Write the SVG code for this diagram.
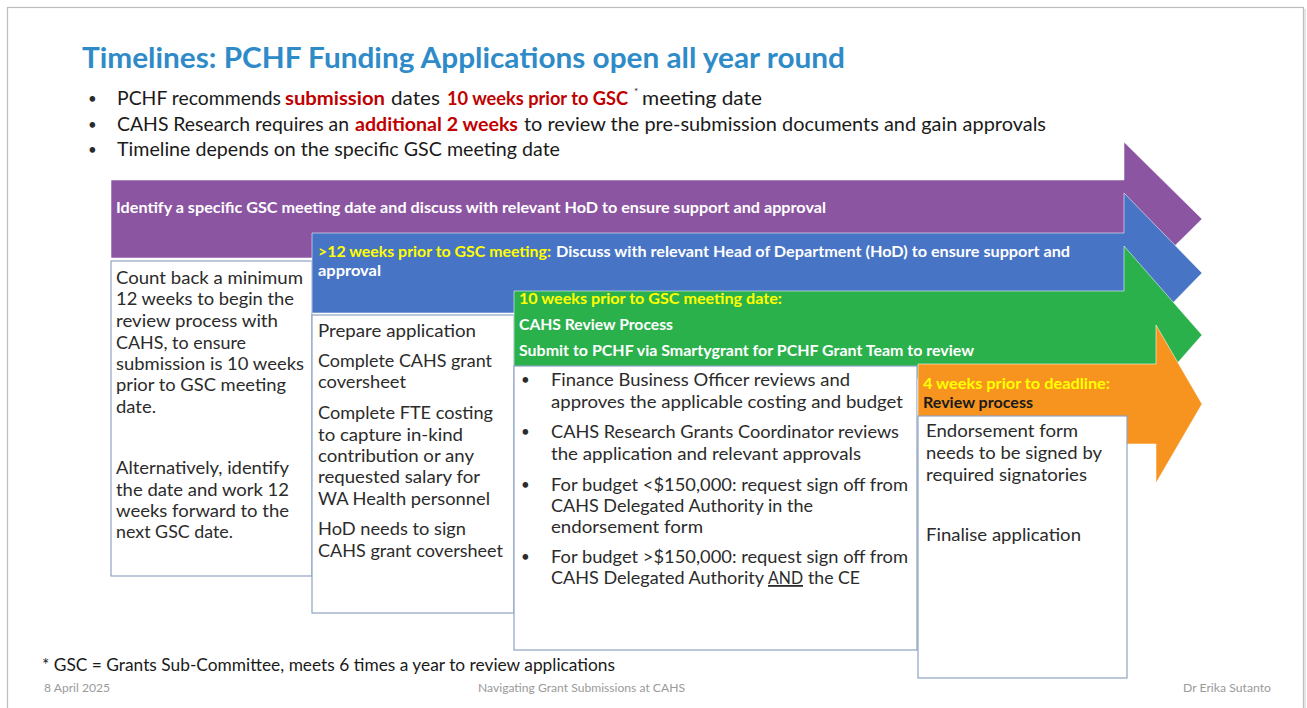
<svg xmlns="http://www.w3.org/2000/svg" width="1307" height="708" viewBox="0 0 1307 708">
<style>
text{font-family:Lato,"Liberation Sans",sans-serif}
.title{font-size:28px;font-weight:bold;fill:#2E8BC8}
.bl{font-size:19px;fill:#1a1a1a}
.red{font-size:19px;fill:#C00000;font-weight:bold}
.ar{font-size:14.5px;font-weight:bold;fill:#ffffff}
.ay{font-size:14.5px;font-weight:bold;fill:#FFFF00}
.ak{font-size:14.5px;font-weight:bold;fill:#1a1a1a}
.bx{font-size:18px;fill:#2b2b2b}
.dot{font-size:15px;fill:#2b2b2b}
.box{fill:#ffffff;stroke:#8FA3C2;stroke-width:1.2}
.arrow{stroke:#ffffff;stroke-opacity:0.55;stroke-width:1}
.foot{font-size:11px;fill:#9A9A9A}
.fn{font-size:17px;fill:#1a1a1a}
</style>
<rect x="0" y="0" width="1307" height="708" fill="#ffffff"/>
<rect x="7.5" y="7.5" width="1296" height="720" fill="#ffffff" stroke="#BDBDBD" stroke-width="1.2"/>
<line x1="1305" y1="9" x2="1305" y2="708" stroke="#DDDDDD" stroke-width="1.5"/>

<g id="header">
<text class="title" x="82" y="68" textLength="763" lengthAdjust="spacingAndGlyphs">Timelines: PCHF Funding Applications open all year round</text>
<text class="dot" x="88" y="104">•</text>
<text class="dot" x="88" y="130">•</text>
<text class="dot" x="88" y="155">•</text>
<text class="bl" x="117" y="105" textLength="164" lengthAdjust="spacingAndGlyphs">PCHF recommends</text>
<text class="red" x="285" y="105" textLength="100" lengthAdjust="spacingAndGlyphs">submission</text>
<text class="bl" x="391" y="105" textLength="49" lengthAdjust="spacingAndGlyphs">dates</text>
<text class="red" x="447" y="105" textLength="181" lengthAdjust="spacingAndGlyphs">10 weeks prior to GSC</text>
<text x="634" y="95" style="font-size:10px;fill:#1a1a1a">*</text>
<text class="bl" x="642" y="105" textLength="120" lengthAdjust="spacingAndGlyphs">meeting date</text>
<text class="bl" x="117" y="131" textLength="232" lengthAdjust="spacingAndGlyphs">CAHS Research requires an</text>
<text class="red" x="355" y="131" textLength="163" lengthAdjust="spacingAndGlyphs">additional 2 weeks</text>
<text class="bl" x="524" y="131" textLength="522" lengthAdjust="spacingAndGlyphs">to review the pre-submission documents and gain approvals</text>
<text class="bl" x="117" y="156" textLength="443" lengthAdjust="spacingAndGlyphs">Timeline depends on the specific GSC meeting date</text>
</g>

<g id="step1-identify">
<path class="arrow" fill="#8C55A2" d="M111,180 H1124 V142 L1202,219 L1124,296 V258 H111 Z"/>
<text class="ar" x="116" y="213" textLength="710" lengthAdjust="spacingAndGlyphs">Identify a specific GSC meeting date and discuss with relevant HoD to ensure support and approval</text>
<rect class="box" x="111" y="261" width="201" height="315"/>
<text class="bx" x="116" y="284" textLength="187" lengthAdjust="spacingAndGlyphs">Count back a minimum</text>
<text class="bx" x="116" y="305" textLength="178" lengthAdjust="spacingAndGlyphs">12 weeks to begin the</text>
<text class="bx" x="116" y="327" textLength="162" lengthAdjust="spacingAndGlyphs">review process with</text>
<text class="bx" x="116" y="349" textLength="130" lengthAdjust="spacingAndGlyphs">CAHS, to ensure</text>
<text class="bx" x="116" y="370" textLength="188" lengthAdjust="spacingAndGlyphs">submission is 10 weeks</text>
<text class="bx" x="116" y="391" textLength="170" lengthAdjust="spacingAndGlyphs">prior to GSC meeting</text>
<text class="bx" x="116" y="413" textLength="40" lengthAdjust="spacingAndGlyphs">date.</text>
<text class="bx" x="116" y="474" textLength="173" lengthAdjust="spacingAndGlyphs">Alternatively, identify</text>
<text class="bx" x="116" y="496" textLength="173" lengthAdjust="spacingAndGlyphs">the date and work 12</text>
<text class="bx" x="116" y="517" textLength="173" lengthAdjust="spacingAndGlyphs">weeks forward to the</text>
<text class="bx" x="116" y="538" textLength="117" lengthAdjust="spacingAndGlyphs">next GSC date.</text>
</g>

<g id="step2-prepare">
<path class="arrow" fill="#4774C5" d="M312,233 H1124 V193 L1202,273 L1124,353 V313 H312 Z"/>
<text class="ay" x="318" y="257" textLength="233" lengthAdjust="spacingAndGlyphs">&gt;12 weeks prior to GSC meeting:</text>
<text class="ar" x="556" y="257" textLength="514" lengthAdjust="spacingAndGlyphs">Discuss with relevant Head of Department (HoD) to ensure support and</text>
<text class="ar" x="318" y="276" textLength="63" lengthAdjust="spacingAndGlyphs">approval</text>
<rect class="box" x="312" y="315" width="202" height="298"/>
<text class="bx" x="318" y="337" textLength="158" lengthAdjust="spacingAndGlyphs">Prepare application</text>
<text class="bx" x="318" y="367" textLength="174" lengthAdjust="spacingAndGlyphs">Complete CAHS grant</text>
<text class="bx" x="318" y="388" textLength="88" lengthAdjust="spacingAndGlyphs">coversheet</text>
<text class="bx" x="318" y="419" textLength="175" lengthAdjust="spacingAndGlyphs">Complete FTE costing</text>
<text class="bx" x="318" y="441" textLength="145" lengthAdjust="spacingAndGlyphs">to capture in-kind</text>
<text class="bx" x="318" y="462" textLength="156" lengthAdjust="spacingAndGlyphs">contribution or any</text>
<text class="bx" x="318" y="483" textLength="162" lengthAdjust="spacingAndGlyphs">requested salary for</text>
<text class="bx" x="318" y="505" textLength="172" lengthAdjust="spacingAndGlyphs">WA Health personnel</text>
<text class="bx" x="318" y="535" textLength="148" lengthAdjust="spacingAndGlyphs">HoD needs to sign</text>
<text class="bx" x="318" y="557" textLength="185" lengthAdjust="spacingAndGlyphs">CAHS grant coversheet</text>
</g>

<g id="step3-review">
<path class="arrow" fill="#2BB14C" d="M514,291 H1124 V246 L1202,335 L1124,424 V379 H514 Z"/>
<text class="ay" x="519" y="304" textLength="263" lengthAdjust="spacingAndGlyphs">10 weeks prior to GSC meeting date:</text>
<text class="ar" x="519" y="330" textLength="154" lengthAdjust="spacingAndGlyphs">CAHS Review Process</text>
<text class="ar" x="519" y="356" textLength="455" lengthAdjust="spacingAndGlyphs">Submit to PCHF via Smartygrant for PCHF Grant Team to review</text>
<rect class="box" x="514" y="366" width="403" height="284"/>
<text class="dot" x="521" y="385">•</text>
<text class="dot" x="521" y="437">•</text>
<text class="dot" x="521" y="490">•</text>
<text class="dot" x="521" y="562">•</text>
<text class="bx" x="551" y="386" textLength="299" lengthAdjust="spacingAndGlyphs">Finance Business Officer reviews and</text>
<text class="bx" x="551" y="408" textLength="352" lengthAdjust="spacingAndGlyphs">approves the applicable costing and budget</text>
<text class="bx" x="551" y="438" textLength="348" lengthAdjust="spacingAndGlyphs">CAHS Research Grants Coordinator reviews</text>
<text class="bx" x="551" y="460" textLength="310" lengthAdjust="spacingAndGlyphs">the application and relevant approvals</text>
<text class="bx" x="551" y="491" textLength="357" lengthAdjust="spacingAndGlyphs">For budget &lt;$150,000: request sign off from</text>
<text class="bx" x="551" y="512" textLength="262" lengthAdjust="spacingAndGlyphs">CAHS Delegated Authority in the</text>
<text class="bx" x="551" y="533" textLength="152" lengthAdjust="spacingAndGlyphs">endorsement form</text>
<text class="bx" x="551" y="563" textLength="357" lengthAdjust="spacingAndGlyphs">For budget &gt;$150,000: request sign off from</text>
<text class="bx" x="551" y="584" textLength="213" lengthAdjust="spacingAndGlyphs">CAHS Delegated Authority</text>
<text class="bx" x="768" y="584" textLength="35" lengthAdjust="spacingAndGlyphs" text-decoration="underline">AND</text>
<text class="bx" x="808" y="584" textLength="52" lengthAdjust="spacingAndGlyphs">the CE</text>
</g>

<g id="step4-finalise">
<path class="arrow" fill="#F7941F" d="M918,364 H1156 V325 L1202,404 L1156,483 V444 H918 Z"/>
<text class="ay" x="923" y="389" textLength="187" lengthAdjust="spacingAndGlyphs">4 weeks prior to deadline:</text>
<text class="ak" x="923" y="408" textLength="110" lengthAdjust="spacingAndGlyphs">Review process</text>
<rect class="box" x="918" y="416" width="209" height="262"/>
<text class="bx" x="926" y="437" textLength="152" lengthAdjust="spacingAndGlyphs">Endorsement form</text>
<text class="bx" x="926" y="459" textLength="176" lengthAdjust="spacingAndGlyphs">needs to be signed by</text>
<text class="bx" x="926" y="481" textLength="161" lengthAdjust="spacingAndGlyphs">required signatories</text>
<text class="bx" x="926" y="541" textLength="155" lengthAdjust="spacingAndGlyphs">Finalise application</text>
</g>

<g id="connectors"></g>

<g id="footer">
<text class="fn" x="42" y="671" textLength="573" lengthAdjust="spacingAndGlyphs">* GSC = Grants Sub-Committee, meets 6 times a year to review applications</text>
<text class="foot" x="44" y="692" textLength="66" lengthAdjust="spacingAndGlyphs">8 April 2025</text>
<text class="foot" x="478" y="692" textLength="207" lengthAdjust="spacingAndGlyphs">Navigating Grant Submissions at CAHS</text>
<text class="foot" x="1183" y="692" textLength="88" lengthAdjust="spacingAndGlyphs">Dr Erika Sutanto</text>
</g>
</svg>
